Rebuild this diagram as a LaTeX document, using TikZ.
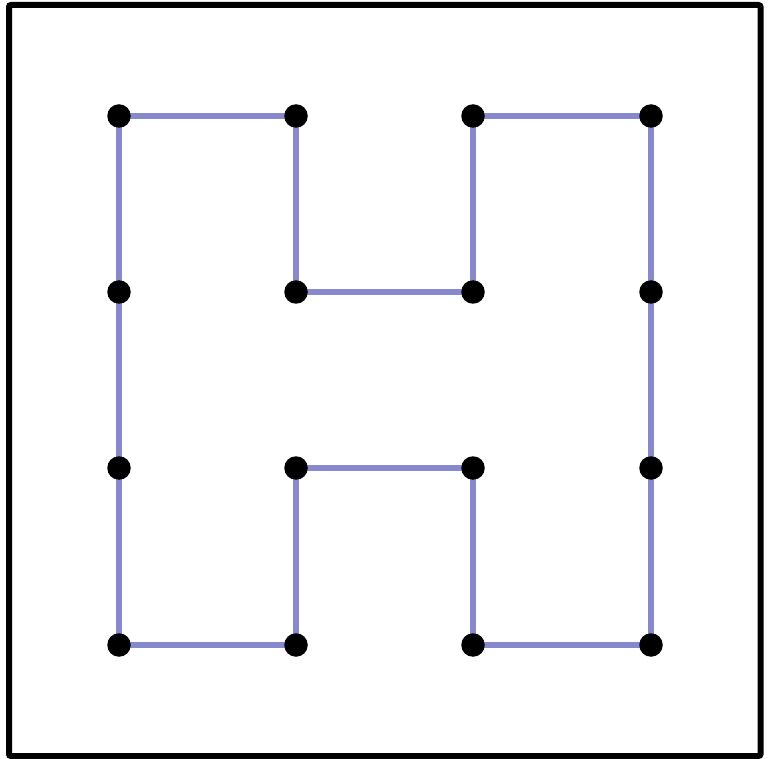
\documentclass[tikz,border=0pt]{standalone}
\definecolor{pathblue}{RGB}{136,136,204}
\begin{document}
\begin{tikzpicture}[x=1pt,y=-1pt,
  dot/.style={circle,fill=black,inner sep=0pt,minimum size=23.5pt},
  link/.style={pathblue,line width=6pt}]
\useasboundingbox (0,0) rectangle (774,759);
\draw[line width=6pt,rounded corners=2pt] (9,5) rectangle (760.5,756);
\foreach \i/\x in {0/119,1/296,2/473,3/651}
  \foreach \j/\y in {0/116,1/292,2/468,3/645}
    \coordinate (p\i\j) at (\x,\y);
\draw[link] (p00) -- (p10) -- (p11) -- (p21) -- (p20) -- (p30) -- (p31) -- (p32) -- (p33)
  -- (p23) -- (p22) -- (p12) -- (p13) -- (p03) -- (p02) -- (p01) -- cycle;
\foreach \i in {0,...,3}
  \foreach \j in {0,...,3}
    \node[dot] (d\i\j) at (p\i\j) {};
\end{tikzpicture}
\end{document}
